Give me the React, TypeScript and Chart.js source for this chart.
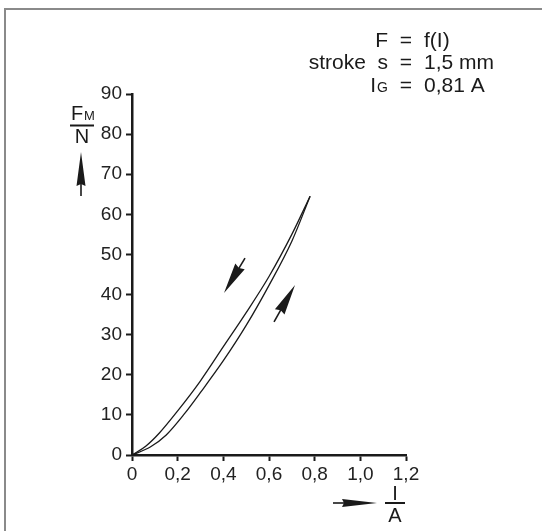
import { useEffect, useRef } from 'react';
import { Chart, registerables } from 'chart.js';

Chart.register(...registerables);

// ---- data ----
const xTickValues = [0, 0.2, 0.4, 0.6, 0.8, 1.0, 1.2];
const yTickValues = [0, 10, 20, 30, 40, 50, 60, 70, 80, 90];

// descending branch (upper curve)
const downCurrent = [0, 0.06, 0.12, 0.2, 0.3, 0.4, 0.5, 0.6, 0.7, 0.78];
const downForce = [0, 2.2, 5.5, 11, 18.5, 27, 35.5, 44.5, 55, 64.5];

// ascending branch (lower curve)
const upCurrent = [0, 0.08, 0.15, 0.23, 0.3, 0.4, 0.5, 0.6, 0.7, 0.78];
const upForce = [0, 2, 5, 10.3, 15.6, 23.5, 32.3, 42.3, 53.3, 64.5];

// direction arrows in data units: [tailI, tailF, tipI, tipF]
const arrowDescending = [0.495, 49.1, 0.403, 40.4];
const arrowAscending = [0.622, 33.2, 0.714, 42.4];

const infoLines = [
  { left: 'F', right: 'f(I)', sub: '' },
  { left: 'stroke  s', right: '1,5 mm', sub: '' },
  { left: 'I', right: '0,81 A', sub: 'G' },
];

const FONT = '"Liberation Sans", Arial, sans-serif';
const INK = '#1a1a1a';

function fmt(v: number) {
  if (Math.abs(v) < 1e-9) return '0';
  return v.toFixed(1).replace('.', ',');
}

function drawArrow(ctx: CanvasRenderingContext2D, x1: number, y1: number, x2: number, y2: number, headLen: number, headW: number) {
  const dx = x2 - x1, dy = y2 - y1;
  const len = Math.hypot(dx, dy);
  const ux = dx / len, uy = dy / len;
  const px = -uy, py = ux;
  const bx = x2 - ux * headLen, by = y2 - uy * headLen;
  ctx.save();
  ctx.strokeStyle = INK;
  ctx.fillStyle = INK;
  ctx.lineWidth = 1.6;
  ctx.beginPath();
  ctx.moveTo(x1, y1);
  ctx.lineTo(bx + ux * 4, by + uy * 4);
  ctx.stroke();
  ctx.beginPath();
  ctx.moveTo(x2, y2);
  ctx.lineTo(bx + px * headW / 2, by + py * headW / 2);
  ctx.lineTo(bx + ux * 2, by + uy * 2);
  ctx.lineTo(bx - px * headW / 2, by - py * headW / 2);
  ctx.closePath();
  ctx.fill();
  ctx.restore();
}

const decorations = {
  id: 'decorations',
  beforeDraw(chart: any) {
    const ctx = chart.ctx as CanvasRenderingContext2D;
    ctx.save();
    ctx.fillStyle = '#ffffff';
    ctx.fillRect(0, 0, chart.width, chart.height);
    ctx.strokeStyle = '#8a8a8a';
    ctx.lineWidth = 2;
    ctx.beginPath();
    ctx.moveTo(5, chart.height);
    ctx.lineTo(5, 9);
    ctx.lineTo(chart.width, 9);
    ctx.stroke();
    ctx.restore();
  },
  afterDraw(chart: any) {
    const ctx = chart.ctx as CanvasRenderingContext2D;
    const xs = chart.scales.x;
    const ys = chart.scales.y;
    const area = chart.chartArea;

    // curve direction arrows
    for (const a of [arrowDescending, arrowAscending]) {
      drawArrow(ctx, xs.getPixelForValue(a[0]), ys.getPixelForValue(a[1]), xs.getPixelForValue(a[2]), ys.getPixelForValue(a[3]), 31, 11);
    }

    ctx.save();
    ctx.fillStyle = INK;
    ctx.strokeStyle = INK;

    // y axis label F_M / N with arrow
    const yl = area.left - 50;
    ctx.textBaseline = 'alphabetic';
    ctx.textAlign = 'left';
    ctx.font = `20px ${FONT}`;
    ctx.fillText('F', yl - 11, 120);
    ctx.font = `13px ${FONT}`;
    ctx.fillText('M', yl + 2, 120);
    ctx.lineWidth = 2;
    ctx.beginPath();
    ctx.moveTo(yl - 12, 125.5);
    ctx.lineTo(yl + 12, 125.5);
    ctx.stroke();
    ctx.font = `20px ${FONT}`;
    ctx.textAlign = 'center';
    ctx.fillText('N', yl, 143);
    drawArrow(ctx, yl - 1, 196, yl - 1, 152, 34, 9);

    // x axis label I / A with arrow
    const xl = area.right - 11;
    ctx.textAlign = 'center';
    ctx.font = `20px ${FONT}`;
    ctx.fillText('I', xl, 500);
    ctx.lineWidth = 2;
    ctx.beginPath();
    ctx.moveTo(xl - 10, 503);
    ctx.lineTo(xl + 10, 503);
    ctx.stroke();
    ctx.fillText('A', xl, 522);
    drawArrow(ctx, area.right - 73, 503, area.right - 29, 503, 35, 8);

    // info block top right
    const eqX = 406;
    const gap = 18;
    const baselines = [47, 69, 92];
    infoLines.forEach((ln, i) => {
      const b = baselines[i];
      ctx.font = `21px ${FONT}`;
      ctx.textAlign = 'center';
      ctx.fillText('=', eqX, b);
      ctx.textAlign = 'left';
      ctx.fillText(ln.right, eqX + gap, b);
      ctx.textAlign = 'right';
      if (ln.sub) {
        ctx.font = `14px ${FONT}`;
        ctx.fillText(ln.sub, eqX - gap, b);
        const w = ctx.measureText(ln.sub).width;
        ctx.font = `21px ${FONT}`;
        ctx.fillText(ln.left, eqX - gap - w - 1, b);
      } else {
        ctx.fillText(ln.left, eqX - gap, b);
      }
    });
    ctx.restore();
  },
};

export default function App() {
  const ref = useRef<HTMLCanvasElement | null>(null);

  useEffect(() => {
    document.body.style.margin = '0';
    const canvas = ref.current;
    if (!canvas) return;
    const toPts = (xs: number[], ys: number[]) => xs.map((x, i) => ({ x, y: ys[i] }));
    const chart = new Chart(canvas, {
      type: 'line',
      data: {
        datasets: [
          {
            label: 'descending',
            data: toPts(downCurrent, downForce),
            borderColor: INK,
            borderWidth: 1.3,
            pointRadius: 0,
            fill: false,
            cubicInterpolationMode: 'monotone',
          },
          {
            label: 'ascending',
            data: toPts(upCurrent, upForce),
            borderColor: INK,
            borderWidth: 1.3,
            pointRadius: 0,
            fill: false,
            cubicInterpolationMode: 'monotone',
          },
        ],
      },
      options: {
        animation: false,
        responsive: false,
        devicePixelRatio: 1,
        layout: { padding: { left: 0, right: 136, top: 94, bottom: 0 } },
        plugins: { legend: { display: false }, tooltip: { enabled: false } },
        scales: {
          x: {
            type: 'linear',
            min: 0,
            max: 1.2,
            afterBuildTicks: (s: any) => { s.ticks = xTickValues.map((v) => ({ value: v })); },
            afterFit: (s: any) => { s.height = 76; },
            ticks: {
              callback: (v: any) => fmt(Number(v)),
              font: { family: FONT, size: 19 },
              color: '#222',
              padding: 2,
              maxRotation: 0,
              autoSkip: false,
            },
            grid: { drawOnChartArea: false, drawTicks: true, tickLength: 6, tickWidth: 2, tickColor: INK },
            border: { display: true, color: INK, width: 2.5 },
          },
          y: {
            type: 'linear',
            min: 0,
            max: 90,
            afterBuildTicks: (s: any) => { s.ticks = yTickValues.map((v) => ({ value: v })); },
            afterFit: (s: any) => { s.width = 132; },
            ticks: {
              callback: (v: any) => String(v),
              font: { family: FONT, size: 19 },
              color: '#222',
              padding: 4,
              autoSkip: false,
            },
            grid: { drawOnChartArea: false, drawTicks: true, tickLength: 6, tickWidth: 2, tickColor: INK },
            border: { display: true, color: INK, width: 2.5 },
          },
        },
      },
      plugins: [decorations],
    });
    return () => chart.destroy();
  }, []);

  return (
    <div style={{ width: 542, height: 531 }}>
      <canvas ref={ref} width={542} height={531} style={{ display: 'block', width: 542, height: 531 }} />
    </div>
  );
}
